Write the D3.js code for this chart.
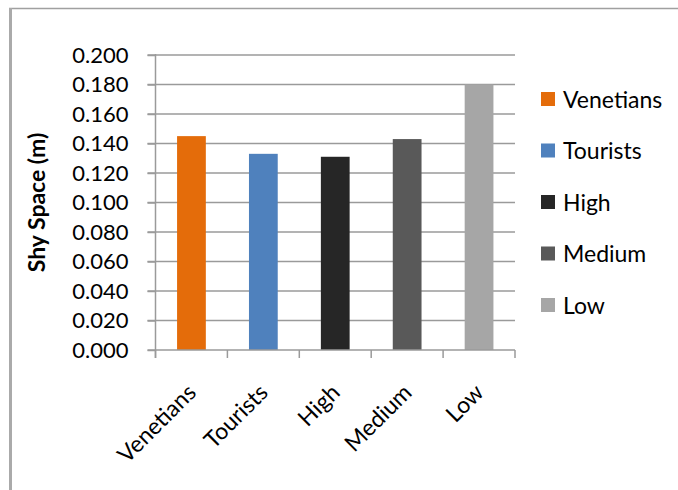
<!DOCTYPE html>
<html>
<head>
<meta charset="utf-8">
<script src="https://cdn.jsdelivr.net/npm/d3@7"></script>
<style>
  html, body { margin: 0; padding: 0; background: #fff; }
  svg { display: block; }
  text { font-family: Lato, "Open Sans", sans-serif; fill: #000; }
</style>
</head>
<body>
<svg id="chart" width="678" height="490"></svg>
<script>
// Chart data
const categories = ["Venetians", "Tourists", "High", "Medium", "Low"];
const values = [0.145, 0.133, 0.131, 0.143, 0.180];
const colors = ["#E46C0A", "#4F81BD", "#262626", "#595959", "#A6A6A6"];
const yTicks = [0, 0.02, 0.04, 0.06, 0.08, 0.1, 0.12, 0.14, 0.16, 0.18, 0.2];
const yTitle = "Shy Space (m)";

const svg = d3.select("#chart");

// Frame lines (top and left)
svg.append("line").attr("x1", 9).attr("x2", 678).attr("y1", 8.5).attr("y2", 8.5)
  .attr("stroke", "#a0a0a0").attr("stroke-width", 1.5);
svg.append("line").attr("x1", 10.5).attr("x2", 10.5).attr("y1", 8).attr("y2", 490)
  .attr("stroke", "#aaaaaa").attr("stroke-width", 3);

const plot = { left: 155.5, right: 515, top: 55, bottom: 350 };

const x = d3.scaleBand().domain(categories).range([plot.left, plot.right]).paddingInner(0.6).paddingOuter(0.3);
const xOuter = d3.scaleBand().domain(categories).range([plot.left, plot.right]);
const y = d3.scaleLinear().domain([0, 0.2]).range([plot.bottom, plot.top]);

// Horizontal gridlines
svg.append("g").selectAll("line").data(yTicks.filter(d => d > 0)).join("line")
  .attr("x1", plot.left - 8).attr("x2", plot.right)
  .attr("y1", d => y(d)).attr("y2", d => y(d))
  .attr("stroke", "#9a9a9a").attr("stroke-width", 1.5);

// Y axis
const yAxis = svg.append("g").attr("transform", `translate(${plot.left},0)`)
  .call(d3.axisLeft(y).tickValues(yTicks).tickFormat(d3.format(".3f")).tickSize(8).tickPadding(19));
yAxis.select(".domain").attr("stroke", "#9a9a9a").attr("stroke-width", 1.5)
  .attr("d", `M0,${plot.top - 1}V${plot.bottom + 8}`);
yAxis.selectAll(".tick line").attr("stroke", "#9a9a9a").attr("stroke-width", 1.5);
yAxis.selectAll(".tick text").attr("font-size", 22).attr("font-family", "Lato, sans-serif");

// Bars
svg.append("g").selectAll("rect").data(categories).join("rect")
  .attr("x", d => x(d)).attr("width", x.bandwidth())
  .attr("y", (d, i) => y(values[i])).attr("height", (d, i) => y(0) - y(values[i]))
  .attr("fill", (d, i) => colors[i]);

// X axis
const xAxis = svg.append("g").attr("transform", `translate(0,${plot.bottom})`)
  .call(d3.axisBottom(xOuter).tickSize(0).tickFormat(""));
xAxis.select(".domain").attr("stroke", "#9a9a9a").attr("stroke-width", 1.5)
  .attr("d", `M${plot.left - 8},0H${plot.right}`);
const bounds = categories.map(c => xOuter(c)).concat([plot.right]);
svg.append("g").selectAll("line").data(bounds).join("line")
  .attr("x1", d => d).attr("x2", d => d).attr("y1", plot.bottom).attr("y2", plot.bottom + 8)
  .attr("stroke", "#9a9a9a").attr("stroke-width", 1.5);

// Rotated category labels
svg.append("g").selectAll("text").data(categories).join("text")
  .attr("transform", d => `translate(${xOuter(d) + xOuter.bandwidth() / 2 + 6},${plot.bottom + 44}) rotate(-45)`)
  .attr("text-anchor", "end")
  .attr("font-size", 23)
  .text(d => d);

// Y axis title
svg.append("text")
  .attr("transform", `translate(45,${(plot.top + plot.bottom) / 2}) rotate(-90)`)
  .attr("text-anchor", "middle")
  .attr("font-size", 23).attr("font-weight", "bold")
  .text(yTitle);

// Legend
const legend = svg.append("g").selectAll("g").data(categories).join("g")
  .attr("transform", (d, i) => `translate(541,${99 + i * 51.5})`);
legend.append("rect").attr("x", 0).attr("y", -7).attr("width", 14).attr("height", 14)
  .attr("fill", (d, i) => colors[i]);
legend.append("text").attr("x", 22).attr("y", 8.5).attr("font-size", 23).text(d => d);
</script>
</body>
</html>
